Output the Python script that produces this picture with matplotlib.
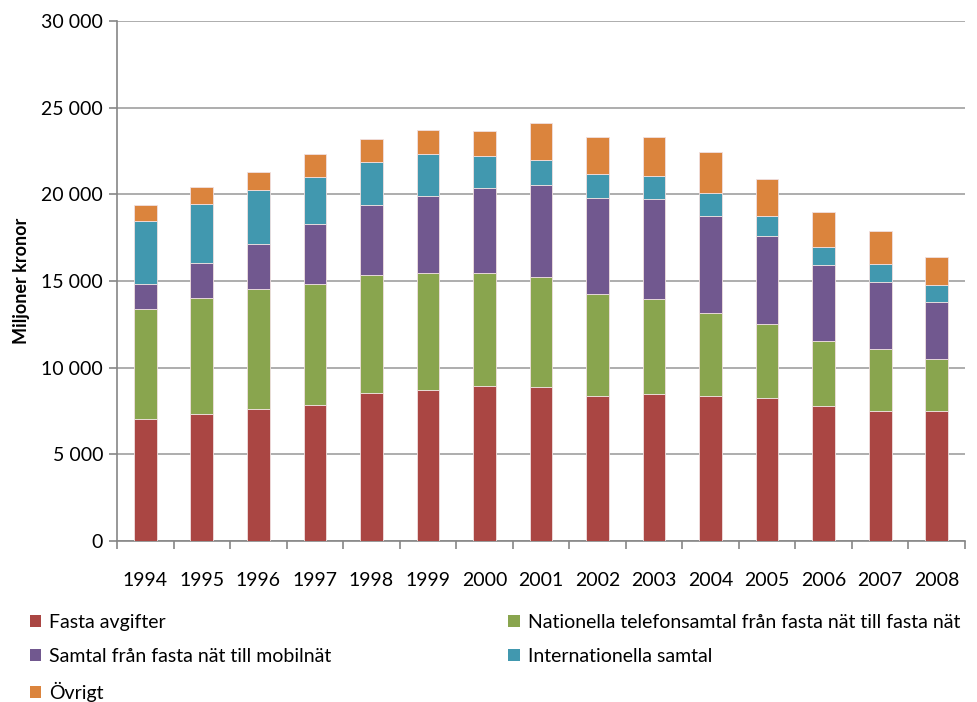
import numpy as np
import matplotlib
matplotlib.use("Agg")
import matplotlib.pyplot as plt
from matplotlib.patches import Patch
from matplotlib.ticker import FuncFormatter, FixedLocator

plt.rcParams['font.family'] = ['Lato', 'DejaVu Sans']

years = [str(y) for y in range(1994, 2009)]

# Miljoner kronor
fasta_avgifter = [7050, 7300, 7600, 7870, 8560, 8730, 8960, 8900, 8350, 8480, 8350, 8270, 7770, 7480, 7480]
nationella = [6350, 6720, 6960, 6960, 6800, 6710, 6480, 6330, 5880, 5460, 4800, 4250, 3770, 3580, 3040]
mobilnat = [1400, 2000, 2560, 3480, 4040, 4480, 4900, 5290, 5560, 5770, 5580, 5060, 4400, 3900, 3290]
internationella = [3640, 3440, 3130, 2710, 2480, 2390, 1890, 1480, 1400, 1370, 1330, 1190, 1040, 1000, 940]
ovrigt = [940, 940, 1040, 1330, 1330, 1380, 1400, 2100, 2100, 2210, 2360, 2100, 2000, 1940, 1640]

series = [fasta_avgifter, nationella, mobilnat, internationella, ovrigt]
labels = ['Fasta avgifter',
          'Nationella telefonsamtal från fasta nät till fasta nät',
          'Samtal från fasta nät till mobilnät',
          'Internationella samtal',
          'Övrigt']
colors = ['#AA4643', '#89A54E', '#71588F', '#4198AF', '#DB843D']

fig = plt.figure(figsize=(9.77, 7.02), dpi=100)
ax = fig.add_axes([117/977, 1-541/702, (965-117)/977, (541-21)/702])

x = np.arange(len(years))
bottom = np.zeros(len(years))
for vals, c in zip(series, colors):
    ax.bar(x, vals, 0.4, bottom=bottom, color=c, edgecolor='#f0e0e0', linewidth=0.6, zorder=3)
    bottom += np.array(vals)

ax.set_xlim(-0.5, len(years) - 0.5)
ax.set_ylim(0, 30000)
ax.set_yticks(np.arange(0, 30001, 5000))
ax.yaxis.set_major_formatter(FuncFormatter(lambda v, p: f'{int(v):,}'.replace(',', ' ')))
ax.grid(axis='y', color='#a0a0a0', linewidth=1.2, zorder=0)

ax.set_xticks(x)
ax.set_xticklabels(years)
ax.xaxis.set_minor_locator(FixedLocator(np.arange(-0.5, len(years), 1)))
ax.tick_params(axis='x', which='major', length=0, pad=22, labelsize=14)
ax.tick_params(axis='x', which='minor', length=6, color='#868686', width=1.2)
ax.tick_params(axis='y', length=6, color='#868686', width=1.2, labelsize=14, pad=4)

for s in ['top', 'right']:
    ax.spines[s].set_visible(False)
for s in ['left', 'bottom']:
    ax.spines[s].set_color('#868686')
    ax.spines[s].set_linewidth(1.2)

ax.set_ylabel('Miljoner kronor', fontsize=13, fontweight='bold', labelpad=8)

handles = [Patch(facecolor=c) for c in colors]
order = [0, 2, 4, 1, 3]
fig.legend([handles[i] for i in order], [labels[i] for i in order],
           ncol=2, loc='upper left', bbox_to_anchor=(22/977, 1-606/702),
           frameon=False, fontsize=14, handlelength=0.6, handleheight=0.6,
           handletextpad=0.4, columnspacing=9.1, labelspacing=0.88, borderaxespad=0)

fig.savefig('out.png', dpi=100)
